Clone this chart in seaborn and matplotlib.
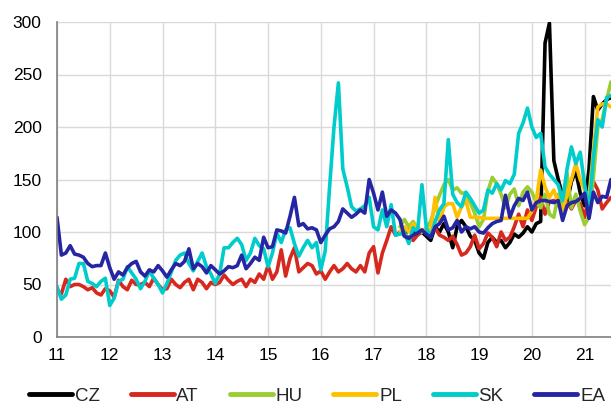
import numpy as np
import pandas as pd
import seaborn as sns
import matplotlib
matplotlib.use("Agg")
import matplotlib.pyplot as plt

# monthly values, Jan 2011 .. Jul 2021
at = [45, 41, 55, 48, 50, 50, 48, 45, 47, 42, 40, 46,
      44, 38, 54, 48, 45, 54, 50, 50, 52, 48, 56, 50,
      45, 46, 55, 50, 47, 52, 55, 45, 55, 52, 46, 52,
      50, 52, 59, 54, 50, 53, 55, 48, 55, 52, 60, 55,
      68, 55, 62, 83, 58, 75, 85, 62, 66, 70, 68, 60,
      63, 55, 62, 68, 62, 65, 70, 65, 62, 68, 62, 80,
      86, 61, 80, 92, 105, 97, 100, 97, 95, 92, 97, 100,
      103, 97, 104, 97, 95, 92, 96, 88, 78, 80, 86, 97,
      84, 89, 99, 95, 86, 100, 92, 95, 105, 117, 105, 121,
      111, 124, 133, 117, 129, 130, 125, 127, 128, 122, 130, 127,
      114, 134, 148, 140, 122, 128, 133]

sk = [48, 36, 40, 55, 56, 70, 70, 53, 51, 48, 53, 56,
      30, 37, 53, 55, 67, 61, 55, 46, 53, 63, 56, 50,
      42, 51, 62, 73, 78, 80, 70, 63, 72, 80, 67, 60,
      51, 60, 85, 85, 90, 94, 88, 73, 80, 94, 87, 84,
      67, 80, 99, 90, 102, 104, 89, 77, 85, 92, 85, 90,
      64, 82, 143, 200, 242, 160, 143, 124, 120, 122, 125, 133,
      105, 102, 121, 105, 126, 97, 98, 100, 89, 104, 100, 145,
      104, 95, 110, 121, 127, 188, 136, 128, 124, 138, 132, 125,
      118, 121, 140, 137, 146, 140, 149, 146, 155, 194, 204, 218,
      200, 190, 194, 162, 155, 150, 145, 130, 160, 181, 165, 176,
      145, 121, 171, 207, 200, 228, 230]

ea = [114, 78, 80, 87, 79, 78, 76, 70, 67, 68, 68, 80,
      66, 55, 62, 59, 66, 70, 72, 62, 58, 64, 62, 68,
      63, 57, 64, 70, 68, 72, 84, 65, 70, 67, 61, 68,
      64, 60, 63, 67, 66, 68, 78, 65, 70, 76, 73, 95,
      85, 86, 102, 101, 99, 115, 133, 106, 108, 103, 104, 102,
      90, 97, 103, 105, 110, 122, 118, 114, 117, 121, 118, 150,
      137, 121, 138, 115, 121, 118, 112, 96, 94, 97, 99, 102,
      98, 95, 105, 108, 115, 102, 104, 111, 100, 105, 103, 105,
      100, 99, 104, 108, 110, 111, 135, 114, 125, 132, 130, 138,
      121, 128, 130, 130, 129, 128, 130, 111, 125, 128, 129, 132,
      137, 113, 138, 128, 134, 133, 150]

# these three start in Jul 2017
late_start = 78
cz = [100, 98, 102, 100, 104, 100,
      96, 92, 105, 100, 108, 100, 85, 105, 111, 105, 96, 92,
      80, 75, 90, 95, 90, 92, 85, 90, 98, 95, 99, 105,
      100, 108, 110, 280, 299, 168, 150, 135, 128, 148, 158, 137,
      125, 160, 229, 216, 222, 226, 228]
hu = [105, 112, 105, 110, 103, 100,
      104, 110, 124, 135, 145, 150, 140, 142, 137, 137, 128, 118,
      105, 112, 139, 152, 146, 136, 123, 136, 141, 125, 138, 143,
      138, 128, 123, 136, 117, 114, 136, 123, 156, 123, 136, 120,
      107, 114, 152, 200, 207, 226, 243]
pl = [100, 105, 100, 108, 103, 102,
      102, 102, 133, 108, 124, 127, 127, 114, 124, 130, 114, 114,
      114, 113, 113, 113, 113, 113, 113, 113, 113, 113, 113, 113,
      120, 130, 159, 143, 133, 140, 128, 121, 135, 150, 165, 150,
      140, 133, 178, 219, 222, 222, 219]

countries = ["CZ", "AT", "HU", "PL", "SK", "EA"]
colors = ["#000000", "#d7281e", "#9acd32", "#ffc000", "#00cccc", "#2626a3"]


def to_long(name, values, start=0):
    t = 11 + (start + np.arange(len(values))) / 12
    return pd.DataFrame({"t": t, "value": values, "country": name})


df = pd.concat([to_long("CZ", cz, late_start), to_long("AT", at),
                to_long("HU", hu, late_start), to_long("PL", pl, late_start),
                to_long("SK", sk), to_long("EA", ea)], ignore_index=True)

sns.set_style("white")
plt.rcParams["font.family"] = ["Liberation Sans", "DejaVu Sans"]

fig = plt.figure(figsize=(6.11, 4.07), dpi=100)
ax = fig.add_axes([57 / 611, 70 / 407, 1 - 57 / 611, 315 / 407])

sns.lineplot(data=df, x="t", y="value", hue="country", hue_order=countries,
             palette=colors, linewidth=2.6, ax=ax, legend=False)

ax.set_xlim(11, 21.5)
ax.set_ylim(0, 300)
ax.set_xticks(range(11, 22))
ax.set_yticks(range(0, 301, 50))
ax.set_xlabel("")
ax.set_ylabel("")
ax.grid(True, color="#d9d9d9", linewidth=1)
ax.set_axisbelow(True)
ax.tick_params(length=0, labelsize=12.5, colors="#000000")
ax.tick_params(axis="y", pad=11)
ax.tick_params(axis="x", pad=8)
for side in ["top", "right"]:
    ax.spines[side].set_visible(False)
for side in ["left", "bottom"]:
    ax.spines[side].set_color("#808080")
    ax.spines[side].set_linewidth(1.2)

handles = [plt.Line2D([], [], color=c, linewidth=3.5) for c in colors]
fig.legend(handles, countries, loc="center left", bbox_to_anchor=(29 / 611, 11 / 407),
           ncol=6, frameon=False, fontsize=13.5, handlelength=2.3, handletextpad=0.15,
           columnspacing=1.63, borderpad=0, borderaxespad=0)

fig.savefig("out.png", dpi=100)
